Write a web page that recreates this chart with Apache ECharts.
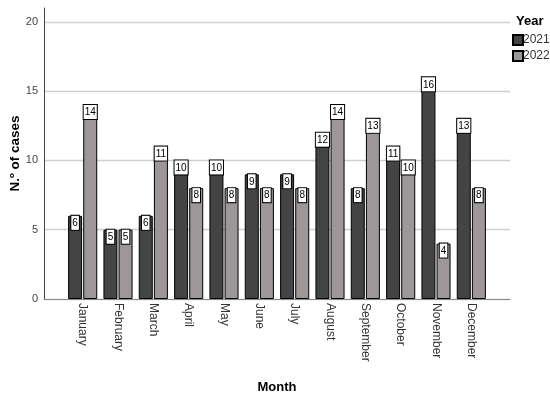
<!DOCTYPE html>
<html>
<head>
<meta charset="utf-8">
<script src="https://cdn.jsdelivr.net/npm/echarts@6/dist/echarts.min.js"></script>
<style>html,body{margin:0;padding:0;background:#fff}#c{width:550px;height:397px}</style>
</head>
<body>
<div id="c"></div>
<script>
var months = ['January','February','March','April','May','June','July','August','September','October','November','December'];
var cases2021 = [6,5,6,10,10,9,9,12,8,11,16,13];
var cases2022 = [14,5,11,8,8,8,8,14,13,10,4,8];
var yTicks = [0,5,10,15,20];

var chart = echarts.init(document.getElementById('c'), null, {renderer:'canvas'});
var font = 'Arial, "Liberation Sans", sans-serif';
var labelCfg = {
  show: true, position: 'insideTop', distance: 0,
  color: '#000', fontSize: 10, fontFamily: font,
  backgroundColor: '#fff', borderColor: '#000', borderWidth: 1,
  padding: [2, 1, 1, 1], lineHeight: 11
};
chart.setOption({
  animation: false,
  textStyle: {fontFamily: font},
  title: {text: 'Year', left: 516, top: 15, padding: 0,
    textStyle: {fontSize: 13, fontWeight: 'bold', color: '#000', fontFamily: font}},
  legend: {
    orient: 'vertical', left: 512, top: 34, padding: 0, itemWidth: 10, itemHeight: 10, itemGap: 4,
    icon: 'rect', textStyle: {fontSize: 12, color: '#333', padding: [0,0,0,-5]},
    data: ['2021','2022']
  },
  grid: [
    {left: 44, right: 40, top: 8, bottom: 98, outerBoundsMode: 'none', containLabel: false},
    {left: 65, right: 61, top: 8, bottom: 98, outerBoundsMode: 'none', containLabel: false}
  ],
  xAxis: [
    {gridIndex: 0, type: 'value', min: 0, max: 1,
     axisLine: {show: true, lineStyle: {color: '#8a8a8a', width: 1}},
     axisTick: {show: false}, axisLabel: {show: false}, splitLine: {show: false},
     name: 'Month', nameLocation: 'middle', nameGap: 82,
     nameTextStyle: {fontSize: 13, fontWeight: 'bold', color: '#000'}},
    {gridIndex: 1, type: 'category', data: months,
     axisLine: {show: false}, axisTick: {show: false},
     axisLabel: {rotate: -90, margin: 4, fontSize: 12, color: '#333', interval: 0}}
  ],
  yAxis: [
    {gridIndex: 0, type: 'value', min: 0, max: 21, interval: 5,
     axisLine: {show: true, lineStyle: {color: '#444', width: 1}},
     axisTick: {show: false},
     axisLabel: {fontSize: 11, color: '#444', margin: 6, showMaxLabel: false,
       formatter: function(v){ return yTicks.indexOf(v) >= 0 ? String(v) : ''; }},
     splitLine: {show: true, showMaxLine: false, lineStyle: {color: '#cfcfcf', width: 1.3}},
     name: 'N.º of cases', nameLocation: 'middle', nameGap: 22, nameMoveOverlap: false,
     nameTextStyle: {fontSize: 13.5, fontWeight: 'bold', color: '#000'}},
    {gridIndex: 1, type: 'value', min: 0, max: 21, show: false, splitLine: {show: false}}
  ],
  series: [
    {name: '2021', type: 'bar', xAxisIndex: 1, yAxisIndex: 1, data: cases2021,
     barWidth: 14, barGap: '8%',
     itemStyle: {color: '#444446', borderColor: '#000', borderWidth: 1},
     label: labelCfg},
    {name: '2022', type: 'bar', xAxisIndex: 1, yAxisIndex: 1, data: cases2022,
     barWidth: 14, barGap: '8%',
     itemStyle: {color: '#9d9797', borderColor: '#000', borderWidth: 1},
     label: labelCfg}
  ]
});
</script>
</body>
</html>
